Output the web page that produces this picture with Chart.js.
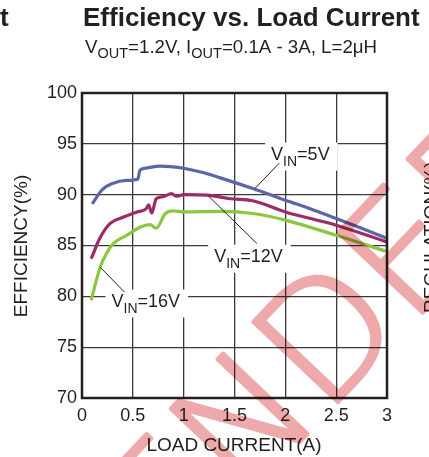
<!DOCTYPE html>
<html>
<head>
<meta charset="utf-8">
<script src="https://cdn.jsdelivr.net/npm/chart.js@4"></script>
<style>
  html, body { margin: 0; padding: 0; background: #fff; }
  #wrap { width: 429px; height: 457px; position: relative; }
</style>
</head>
<body>
<div id="wrap"><canvas id="myChart" width="429" height="457"></canvas></div>
<script>
'use strict';

// data
let loadCurrent5 = [0.1, 0.2, 0.3, 0.44, 0.55, 0.57, 0.62, 0.77, 0.87, 1.0, 1.2, 1.36, 1.68, 2.0, 2.25, 2.5, 2.75, 3.0];
let efficiency5 = [89.1, 90.5, 91.1, 91.4, 91.55, 92.4, 92.6, 92.8, 92.75, 92.6, 92.15, 91.65, 90.6, 89.45, 88.6, 87.65, 86.7, 85.7];

let loadCurrent12 = [0.09, 0.18, 0.28, 0.41, 0.54, 0.63, 0.655, 0.685, 0.73, 0.8, 0.88, 0.93, 1.0, 1.23, 1.46, 1.68, 2.0, 2.5, 3.0];
let efficiency12 = [83.7, 85.8, 87.2, 87.8, 88.3, 88.6, 89.0, 88.2, 89.6, 89.8, 90.1, 89.85, 90.0, 89.95, 89.6, 89.4, 88.3, 87.0, 85.35];

let loadCurrent16 = [0.09, 0.18, 0.24, 0.31, 0.44, 0.57, 0.67, 0.73, 0.82, 0.9, 1.0, 1.36, 1.68, 2.0, 2.5, 3.0];
let efficiency16 = [79.6, 82.9, 84.2, 85.2, 86.0, 86.8, 87.05, 86.7, 88.15, 88.4, 88.3, 88.35, 88.15, 87.5, 86.0, 84.4];

let seriesNames = ['5V', '12V', '16V'];
let xTicks = [0, 0.5, 1, 1.5, 2, 2.5, 3];
let yTicks = [70, 75, 80, 85, 90, 95, 100];

// V_IN callouts, in data units
let labels = [
  { name: seriesNames[0], at: [1.86, 93.45], from: [1.70, 90.6], to: [1.94, 93.1] },
  { name: seriesNames[1], at: [1.30, 83.4], from: [1.24, 89.9], to: [1.72, 85.2] },
  { name: seriesNames[2], at: [0.29, 79.0], from: [0.18, 82.85], to: [0.42, 80.4] }
];

const FONT = '"Liberation Sans", Arial, sans-serif';

// stamp placement (pixels / degrees)
let stampX = 242;
let stampY = 503;
let stampAngle = 46.5;
let stampSize = 160;

function toPoints(xs, ys) {
  let pts = [];
  for (let i = 0; i < xs.length; i++) {
    pts.push({ x: xs[i], y: ys[i] });
  }
  return pts;
}

function drawVin(ctx, x, y, rest) {
  ctx.fillStyle = '#231f20';
  ctx.textBaseline = 'alphabetic';
  ctx.textAlign = 'left';
  ctx.font = '18px ' + FONT;
  ctx.fillText('V', x, y);
  let w = ctx.measureText('V').width;
  ctx.font = '14px ' + FONT;
  ctx.fillText('IN', x + w, y + 6);
  w += ctx.measureText('IN').width;
  ctx.font = '18px ' + FONT;
  ctx.fillText('=' + rest, x + w, y);
}

// the pink "not recommended" stamp over the page
function drawStamp(chart) {
  let off = document.createElement('canvas');
  off.width = chart.width;
  off.height = chart.height;
  let o = off.getContext('2d');
  o.translate(stampX, stampY);
  o.rotate(-stampAngle * Math.PI / 180);
  o.font = '200 ' + stampSize + 'px "DejaVu Sans"';
  let shift = o.measureText('RECOMME').width;
  o.fillStyle = '#eea9aa';
  o.strokeStyle = '#eea9aa';
  o.lineWidth = 4;
  o.lineJoin = 'round';
  o.fillText('RECOMMENDED', -shift, 0);
  o.strokeText('RECOMMENDED', -shift, 0);
  let ctx = chart.ctx;
  ctx.save();
  ctx.globalCompositeOperation = 'multiply';
  ctx.drawImage(off, 0, 0);
  ctx.restore();
}

let extras = {
  id: 'extras',
  beforeDraw(chart) {
    let ctx = chart.ctx;
    ctx.save();
    ctx.fillStyle = '#fff';
    ctx.fillRect(0, 0, chart.width, chart.height);
    ctx.restore();
  },
  afterDatasetsDraw(chart) {
    let ctx = chart.ctx;
    let xs = chart.scales.x;
    let ys = chart.scales.y;
    let a = chart.chartArea;
    ctx.save();
    // frame
    ctx.strokeStyle = '#231f20';
    ctx.lineWidth = 2.5;
    ctx.strokeRect(a.left, a.top, a.right - a.left, a.bottom - a.top);

    // callouts
    labels.forEach(function (lb) {
      let tx = xs.getPixelForValue(lb.at[0]);
      let ty = ys.getPixelForValue(lb.at[1]);
      ctx.font = '18px ' + FONT;
      let w = 13 + 15 + ctx.measureText('=' + lb.name).width;
      ctx.fillStyle = '#fff';
      ctx.fillRect(tx - 6, ty - 17, w + 12, 28);
      ctx.strokeStyle = '#231f20';
      ctx.lineWidth = 1;
      ctx.beginPath();
      ctx.moveTo(xs.getPixelForValue(lb.from[0]), ys.getPixelForValue(lb.from[1]));
      ctx.lineTo(xs.getPixelForValue(lb.to[0]), ys.getPixelForValue(lb.to[1]));
      ctx.stroke();
      drawVin(ctx, tx, ty, lb.name);
    });

    // titles
    ctx.fillStyle = '#231f20';
    ctx.textAlign = 'left';
    ctx.textBaseline = 'alphabetic';
    ctx.font = 'bold 26px ' + FONT;
    ctx.fillText('t', 0, 26);
    ctx.fillText('Efficiency vs. Load Current', 83, 26);

    let big = '18.7px ' + FONT;
    let small = '14.5px ' + FONT;
    let parts = [['V', big, 0], ['OUT', small, 5], ['=1.2V, I', big, 0], ['OUT', small, 5], ['=0.1A - 3A, L=2μH', big, 0]];
    let x = 85;
    parts.forEach(function (p) {
      ctx.font = p[1];
      ctx.fillText(p[0], x, 53 + p[2]);
      x += ctx.measureText(p[0]).width;
    });

    // axis titles
    ctx.font = '19px ' + FONT;
    ctx.textAlign = 'center';
    ctx.fillText('LOAD CURRENT(A)', 234, 451);
    ctx.save();
    ctx.translate(27, 246);
    ctx.rotate(-Math.PI / 2);
    ctx.fillText('EFFICIENCY(%)', 0, 0);
    ctx.restore();
    // neighbour chart's axis title, cut off at the edge
    ctx.save();
    ctx.translate(437, 313);
    ctx.rotate(-Math.PI / 2);
    ctx.textAlign = 'left';
    ctx.fillText('REGULATION(%)', 0, 0);
    ctx.restore();
    ctx.restore();
  },
  afterDraw(chart) {
    drawStamp(chart);
  }
};

let ctx = document.getElementById('myChart').getContext('2d');
let myChart = new Chart(ctx, {
  type: 'scatter',
  data: {
    datasets: [{
      label: seriesNames[0],
      data: toPoints(loadCurrent5, efficiency5),
      borderColor: '#5b66a8'
    }, {
      label: seriesNames[1],
      data: toPoints(loadCurrent12, efficiency12),
      borderColor: '#9b2c68'
    }, {
      label: seriesNames[2],
      data: toPoints(loadCurrent16, efficiency16),
      borderColor: '#8dc63f'
    }]
  },
  options: {
    responsive: false,
    animation: false,
    showLine: true,
    layout: { padding: { left: 0, top: 93, right: 42, bottom: 0 } },
    elements: {
      point: { radius: 0 },
      line: { borderWidth: 3.2, tension: 0.3, cubicInterpolationMode: 'monotone' }
    },
    plugins: {
      legend: { display: false },
      tooltip: { enabled: false }
    },
    scales: {
      x: {
        type: 'linear',
        min: 0,
        max: 3,
        afterFit: function (s) { s.height = 59; },
        afterBuildTicks: function (s) { s.ticks = xTicks.map(v => ({ value: v })); },
        grid: { color: '#3a3a3a', lineWidth: 1.3, drawTicks: false },
        border: { display: false },
        ticks: {
          padding: 7,
          color: '#231f20',
          font: { family: FONT, size: 18 },
          maxRotation: 0,
          callback: v => String(v)
        }
      },
      y: {
        min: 70,
        max: 100,
        afterFit: function (s) { s.width = 82; },
        afterBuildTicks: function (s) { s.ticks = yTicks.map(v => ({ value: v })); },
        grid: { color: '#3a3a3a', lineWidth: 1.3, drawTicks: false },
        border: { display: false },
        ticks: {
          padding: 5,
          color: '#231f20',
          font: { family: FONT, size: 18 }
        }
      }
    }
  },
  plugins: [extras]
});
</script>
</body>
</html>
